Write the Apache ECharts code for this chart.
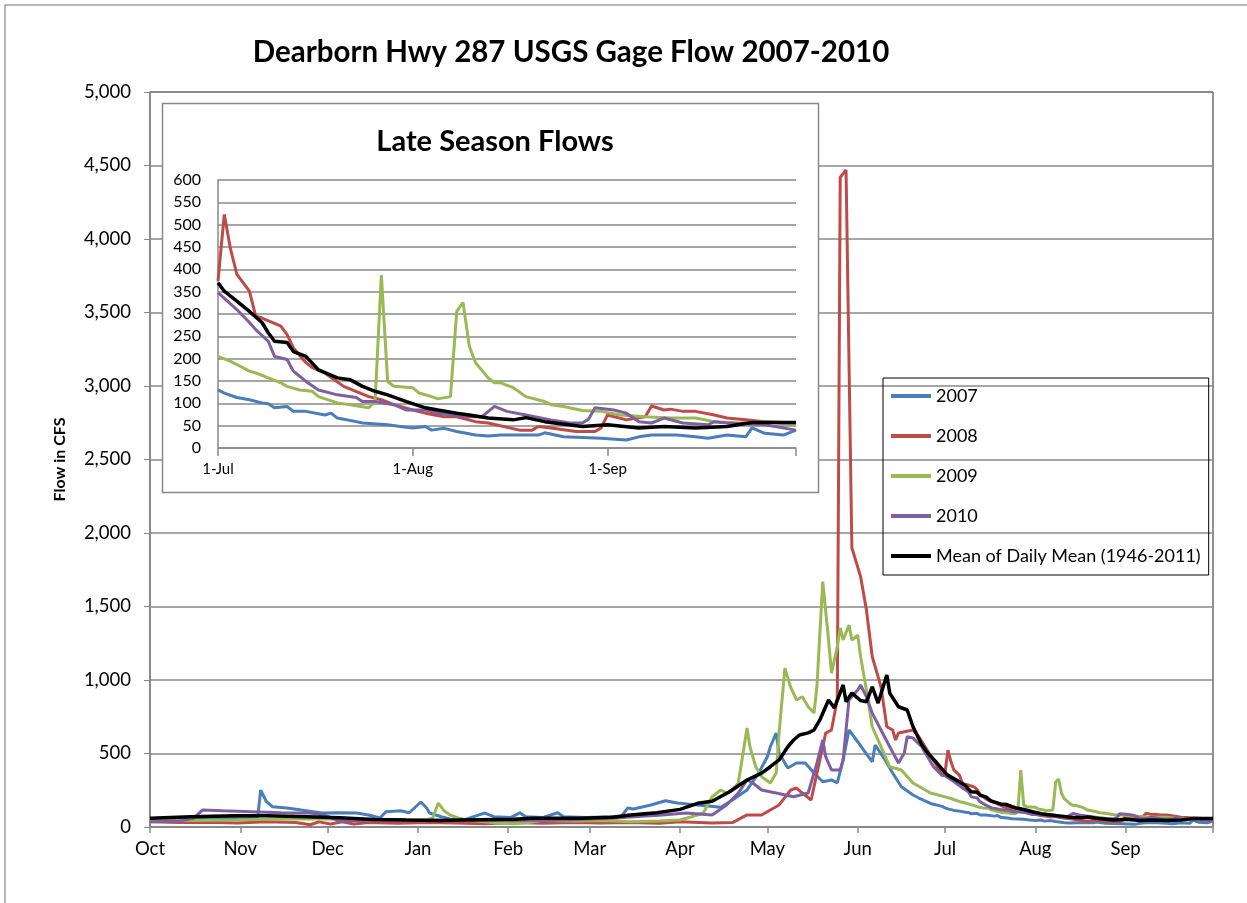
<!DOCTYPE html>
<html>
<head>
<meta charset="utf-8">
<script src="https://cdn.jsdelivr.net/npm/echarts@6/dist/echarts.min.js"></script>
<style>
  html, body { margin: 0; padding: 0; background: #fff; }
  #chart { width: 1247px; height: 903px; }
</style>
</head>
<body>
<div id="chart"></div>
<script>
// main x axis: day of water year, 0 = 1-Oct
const monthStarts = [0, 31, 61, 92, 123, 151, 182, 212, 243, 273, 304, 335, 365]
const monthLabels = ['Oct', 'Nov', 'Dec', 'Jan', 'Feb', 'Mar', 'Apr', 'May', 'Jun', 'Jul', 'Aug', 'Sep']
const julyStart = 273
// inset x axis: days since 1-Jul
const insetTicks = [0, 31, 62, 92]
const insetLabels = ['1-Jul', '1-Aug', '1-Sep']

const seriesNames = ['2007', '2008', '2009', '2010', 'Mean of Daily Mean (1946-2011)']
const colors = ['#4A7EBB', '#BE4B48', '#98B954', '#7D60A0', '#000000']

// Oct - Jun, [day of water year, cfs]
const early2007 = [[0,55],[15,60],[30,62],[37,68],[38,250],[40,172],[42,138],[47,129],[52,115],[56,104],[59,95],[65,97],[71,95],[75,82],[79,61],[81,104],[86,111],[89,97],[93,170],[95,129],[96,95],[100,70],[103,55],[108,50],[113,82],[115,95],[118,70],[124,65],[127,97],[129,70],[135,65],[140,97],[142,70],[150,65],[158,70],[162,75],[164,129],[166,122],[172,150],[177,179],[181,163],[188,150],[196,135],[200,184],[205,252],[209,367],[212,478],[213,546],[215,639],[216,503],[219,401],[222,435],[225,435],[228,367],[231,308],[234,320],[236,300],[238,456],[240,660],[243,580],[245,524],[248,444],[249,558],[252,469],[255,367],[258,274],[262,218],[264,197],[268,160],[272,140]]
const early2008 = [[0,36],[10,30],[20,33],[30,28],[40,35],[50,30],[55,15],[58,35],[62,20],[66,35],[70,20],[75,30],[85,25],[95,30],[105,28],[115,22],[125,30],[135,25],[145,30],[155,28],[165,30],[175,25],[182,36],[193,27],[200,30],[205,82],[210,82],[216,150],[220,252],[222,265],[224,231],[227,184],[230,456],[232,639],[234,660],[236,870],[237,4420],[239,4470],[241,1900],[244,1703],[246,1476],[248,1158],[251,954],[253,682],[255,660],[256,592],[257,639],[262,660],[264,614],[269,456],[272,350]]
const early2009 = [[0,45],[15,45],[30,48],[45,55],[60,55],[75,50],[85,48],[95,50],[97,60],[99,163],[101,110],[103,82],[106,60],[110,45],[115,35],[120,25],[125,22],[130,30],[135,45],[145,40],[155,45],[165,35],[175,40],[182,48],[186,70],[190,95],[193,206],[196,252],[198,231],[200,252],[202,300],[205,673],[206,546],[208,410],[210,342],[213,299],[215,367],[216,639],[218,1081],[220,950],[222,864],[224,886],[226,818],[228,775],[229,954],[231,1669],[233,1272],[234,1047],[236,1227],[237,1354],[238,1272],[240,1374],[241,1272],[243,1306],[244,1158],[246,932],[248,682],[251,546],[254,410],[258,388],[262,299],[268,231],[272,210]]
const early2010 = [[0,35],[10,40],[15,60],[18,115],[25,110],[35,104],[45,97],[55,95],[60,80],[65,40],[75,45],[85,48],[95,45],[105,48],[115,45],[125,48],[135,45],[145,50],[155,58],[160,61],[170,75],[176,82],[184,95],[193,82],[198,150],[202,231],[205,320],[207,299],[210,252],[215,231],[221,206],[226,231],[229,435],[231,592],[232,478],[234,388],[237,388],[238,456],[240,864],[243,932],[244,966],[246,886],[248,775],[251,660],[254,546],[257,435],[259,503],[260,614],[262,605],[265,546],[269,410],[272,350]]
const earlyMean = [[0,60],[14,70],[29,76],[40,76],[54,70],[65,63],[77,51],[88,48],[100,45],[107,48],[125,52],[131,59],[148,59],[159,66],[165,82],[174,97],[182,120],[188,161],[193,175],[199,240],[205,320],[210,367],[213,410],[216,456],[219,546],[221,592],[223,626],[226,640],[228,660],[230,728],[233,864],[235,810],[238,966],[239,852],[241,911],[244,860],[246,852],[248,954],[250,843],[253,1034],[254,911],[257,818],[260,796],[262,682],[265,560],[267,503],[270,440]]

// Jul - Sep, [days since 1-Jul, cfs]
const late2007 = [[0,130],[1,123],[3,113],[5,108],[7,101],[8,99],[9,90],[11,93],[12,82],[14,82],[17,74],[18,78],[19,67],[22,59],[23,56],[27,52],[29,48],[31,45],[33,48],[34,40],[36,44],[38,37],[41,29],[43,27],[45,29],[51,29],[52,34],[55,25],[61,22],[65,18],[67,25],[69,29],[73,29],[76,25],[78,22],[81,29],[84,25],[85,45],[87,33],[90,29],[92,40]]
const late2008 = [[0,374],[1,523],[2,445],[3,389],[5,351],[6,295],[7,291],[9,279],[10,273],[11,254],[12,224],[14,191],[15,180],[17,168],[20,138],[24,115],[26,108],[28,97],[31,85],[33,78],[36,70],[38,70],[41,59],[43,56],[48,40],[50,40],[51,48],[53,45],[57,37],[60,37],[61,45],[62,74],[65,63],[68,70],[69,94],[71,85],[72,87],[74,82],[76,82],[79,74],[81,67],[84,63],[87,59],[92,56]]
const late2009 = [[0,205],[2,194],[3,187],[5,172],[6,168],[8,157],[10,146],[11,138],[13,130],[15,127],[16,115],[19,101],[21,97],[24,90],[25,104],[26,387],[27,149],[28,138],[31,135],[32,123],[34,115],[35,110],[37,115],[38,306],[39,326],[40,228],[41,191],[43,157],[44,146],[45,146],[47,135],[49,115],[52,104],[53,97],[55,93],[58,84],[61,82],[64,74],[68,70],[72,67],[76,67],[79,59],[83,56],[87,59],[92,52]]
const late2010 = [[0,348],[3,310],[5,281],[6,265],[8,239],[9,205],[11,198],[12,172],[14,149],[16,130],[19,119],[22,113],[23,104],[25,104],[28,97],[30,85],[33,85],[35,78],[40,70],[42,70],[44,93],[46,82],[49,74],[53,63],[56,56],[58,56],[59,65],[60,90],[63,85],[65,78],[67,59],[69,56],[71,67],[74,56],[78,52],[79,59],[81,56],[87,52],[92,40]]
const lateMean = [[0,370],[1,351],[3,329],[5,306],[7,281],[8,258],[9,239],[11,236],[12,216],[14,205],[16,175],[19,157],[21,153],[23,138],[25,127],[27,119],[30,104],[33,90],[35,85],[38,78],[40,74],[43,67],[47,63],[49,68],[52,59],[58,48],[62,52],[67,45],[71,48],[76,45],[81,48],[85,57],[92,57]]

const earlyData = [early2007, early2008, early2009, early2010, earlyMean]
const lateData = [late2007, late2008, late2009, late2010, lateMean]

const FONT = 'Lato'
const gridGray = '#898989'

const chart = echarts.init(document.getElementById('chart'))

const mainSeries = seriesNames.map((name, i) => ({
  name: name,
  type: 'line',
  xAxisIndex: 0,
  yAxisIndex: 0,
  showSymbol: false,
  z: 2,
  color: colors[i],
  lineStyle: { width: i === 4 ? 3.5 : 3, color: colors[i] },
  data: earlyData[i].concat(lateData[i].map(p => [p[0] + julyStart, p[1]]))
}))

const insetSeries = seriesNames.map((name, i) => ({
  name: name,
  type: 'line',
  xAxisIndex: 1,
  yAxisIndex: 1,
  showSymbol: false,
  z: 5,
  color: colors[i],
  lineStyle: { width: i === 4 ? 3.5 : 3, color: colors[i] },
  data: lateData[i]
}))

const option = {
  backgroundColor: '#fff',
  animation: false,
  textStyle: { fontFamily: FONT, color: '#000' },
  title: [
    {
      text: 'Dearborn Hwy 287 USGS Gage Flow 2007-2010',
      left: 566,
      top: 32,
      textAlign: 'center',
      textStyle: { fontFamily: FONT, fontSize: 29.5, fontWeight: 'bold', color: '#000' }
    },
    {
      text: 'Late Season Flows',
      left: 490,
      top: 122,
      textAlign: 'center',
      z: 6,
      textStyle: { fontFamily: FONT, fontSize: 29, fontWeight: 'bold', color: '#000' }
    }
  ],
  graphic: [
    {
      type: 'rect',
      z: 0,
      silent: true,
      shape: { x: 5, y: 5, width: 1400, height: 1100 },
      style: { fill: 'none', stroke: '#a0a0a0', lineWidth: 1.5 }
    },
    {
      type: 'rect',
      z: 1,
      silent: true,
      shape: { x: 162.5, y: 103.5, width: 656, height: 389 },
      style: { fill: '#fff', stroke: gridGray, lineWidth: 1.5 }
    }
  ],
  legend: {
    orient: 'vertical',
    left: 883,
    top: 378,
    data: seriesNames,
    icon: 'rect',
    itemWidth: 40,
    itemHeight: 4,
    itemGap: 20,
    padding: [8, 8, 9, 8],
    borderColor: '#000',
    borderWidth: 1,
    z: 6,
    textStyle: { fontFamily: FONT, fontSize: 18, lineHeight: 20, color: '#000' }
  },
  grid: [
    { left: 150, right: 34, top: 92, bottom: 76, show: true, borderColor: '#222', borderWidth: 1 },
    { left: 218, right: 1247 - 796, top: 180, bottom: 903 - 448, z: 3 }
  ],
  xAxis: [
    {
      type: 'value',
      gridIndex: 0,
      min: 0,
      max: 365,
      axisLine: { lineStyle: { color: gridGray, width: 1.5 } },
      axisTick: { customValues: monthStarts, length: 6, lineStyle: { color: gridGray, width: 1.5 } },
      axisLabel: {
        customValues: monthStarts.slice(0, 12),
        formatter: v => monthLabels[monthStarts.indexOf(v)],
        fontFamily: FONT,
        fontSize: 18.5,
        color: '#000',
        margin: 13
      },
      splitLine: { show: false }
    },
    {
      type: 'value',
      gridIndex: 1,
      min: 0,
      max: 92,
      z: 3,
      axisLine: { lineStyle: { color: gridGray, width: 1.5 } },
      axisTick: { customValues: insetTicks, length: 8, lineStyle: { color: gridGray, width: 1.5 } },
      axisLabel: {
        customValues: insetTicks.slice(0, 3),
        formatter: v => insetLabels[insetTicks.indexOf(v)],
        fontFamily: FONT,
        fontSize: 15,
        color: '#000',
        margin: 14
      },
      splitLine: { show: false }
    }
  ],
  yAxis: [
    {
      type: 'value',
      gridIndex: 0,
      min: 0,
      max: 5000,
      interval: 500,
      name: 'Flow in CFS',
      nameLocation: 'middle',
      nameGap: 82,
      nameTextStyle: { fontFamily: FONT, fontSize: 16, fontWeight: 'bold', color: '#000' },
      axisLine: { show: true, lineStyle: { color: gridGray, width: 1.5 } },
      axisTick: { show: true, length: 6, lineStyle: { color: gridGray } },
      axisLabel: {
        formatter: v => v.toLocaleString('en-US'),
        fontFamily: FONT,
        fontSize: 18.5,
        color: '#000',
        margin: 19
      },
      splitLine: { lineStyle: { color: gridGray, width: 1.5 } }
    },
    {
      type: 'value',
      gridIndex: 1,
      min: 0,
      max: 600,
      interval: 50,
      z: 3,
      axisLine: { show: true, lineStyle: { color: gridGray, width: 1.5 } },
      axisTick: { show: false },
      axisLabel: { fontFamily: FONT, fontSize: 16, color: '#000', margin: 17 },
      splitLine: { lineStyle: { color: gridGray, width: 1.5 } }
    }
  ],
  series: mainSeries.concat(insetSeries)
}

chart.setOption(option)
</script>
</body>
</html>
